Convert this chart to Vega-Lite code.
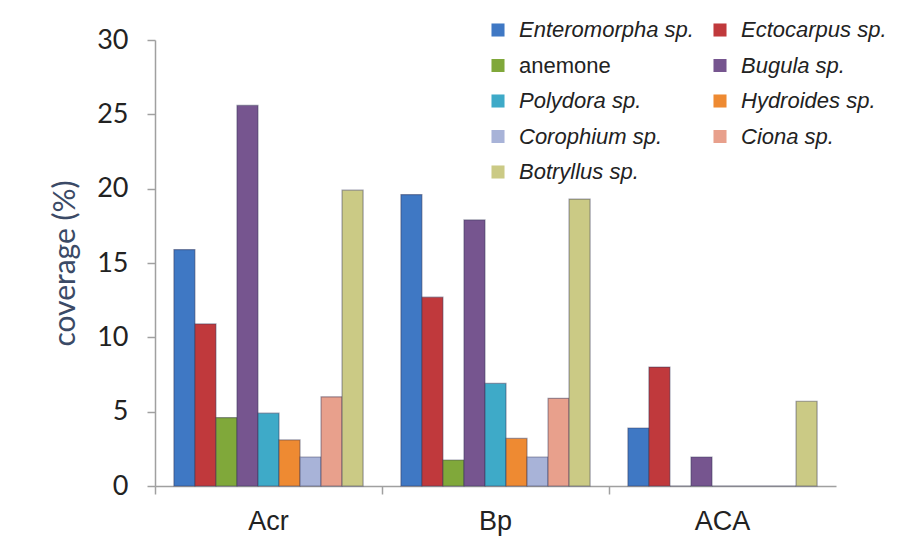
{
  "$schema": "https://vega.github.io/schema/vega-lite/v6.json",
  "autosize": {"type": "none"},
  "width": 681,
  "height": 446,
  "padding": {"left": 155, "top": 40, "right": 86, "bottom": 73},
  "background": "white",
  "config": {"view": {"stroke": null}},
  "data": {
    "values": [
      {"site": "Acr", "taxon": "Enteromorpha sp.", "coverage": 15.9},
      {"site": "Acr", "taxon": "Ectocarpus sp.", "coverage": 10.9},
      {"site": "Acr", "taxon": "anemone", "coverage": 4.6},
      {"site": "Acr", "taxon": "Bugula sp.", "coverage": 25.6},
      {"site": "Acr", "taxon": "Polydora sp.", "coverage": 4.9},
      {"site": "Acr", "taxon": "Hydroides sp.", "coverage": 3.1},
      {"site": "Acr", "taxon": "Corophium sp.", "coverage": 1.95},
      {"site": "Acr", "taxon": "Ciona sp.", "coverage": 6.0},
      {"site": "Acr", "taxon": "Botryllus sp.", "coverage": 19.9},
      {"site": "Bp", "taxon": "Enteromorpha sp.", "coverage": 19.6},
      {"site": "Bp", "taxon": "Ectocarpus sp.", "coverage": 12.7},
      {"site": "Bp", "taxon": "anemone", "coverage": 1.75},
      {"site": "Bp", "taxon": "Bugula sp.", "coverage": 17.9},
      {"site": "Bp", "taxon": "Polydora sp.", "coverage": 6.9},
      {"site": "Bp", "taxon": "Hydroides sp.", "coverage": 3.2},
      {"site": "Bp", "taxon": "Corophium sp.", "coverage": 1.95},
      {"site": "Bp", "taxon": "Ciona sp.", "coverage": 5.9},
      {"site": "Bp", "taxon": "Botryllus sp.", "coverage": 19.3},
      {"site": "ACA", "taxon": "Enteromorpha sp.", "coverage": 3.9},
      {"site": "ACA", "taxon": "Ectocarpus sp.", "coverage": 8.0},
      {"site": "ACA", "taxon": "anemone", "coverage": 0},
      {"site": "ACA", "taxon": "Bugula sp.", "coverage": 1.95},
      {"site": "ACA", "taxon": "Polydora sp.", "coverage": 0},
      {"site": "ACA", "taxon": "Hydroides sp.", "coverage": 0},
      {"site": "ACA", "taxon": "Corophium sp.", "coverage": 0},
      {"site": "ACA", "taxon": "Ciona sp.", "coverage": 0},
      {"site": "ACA", "taxon": "Botryllus sp.", "coverage": 5.7}
    ]
  },
  "mark": {"type": "bar", "stroke": "#333355", "strokeOpacity": 0.45, "strokeWidth": 1.2},
  "encoding": {
    "x": {
      "field": "site",
      "type": "nominal",
      "sort": ["Acr", "Bp", "ACA"],
      "scale": {"paddingInner": 0, "paddingOuter": 0},
      "axis": {
        "title": null,
        "labelAngle": 0,
        "labelFont": "Liberation Sans",
        "labelFontSize": 27,
        "labelColor": "#222222",
        "labelPadding": 14,
        "bandPosition": 0,
        "tickSize": 8,
        "tickColor": "#a0a0a0",
        "domainColor": "#a0a0a0",
        "domainWidth": 1.5,
        "tickWidth": 1.5
      }
    },
    "xOffset": {
      "field": "taxon",
      "type": "nominal",
      "sort": ["Enteromorpha sp.", "Ectocarpus sp.", "anemone", "Bugula sp.", "Polydora sp.", "Hydroides sp.", "Corophium sp.", "Ciona sp.", "Botryllus sp."],
      "scale": {"paddingInner": 0, "paddingOuter": 0.9}
    },
    "y": {
      "field": "coverage",
      "type": "quantitative",
      "scale": {"domain": [0, 30]},
      "axis": {
        "title": "coverage (%)",
        "titleFont": "Lato",
        "titleFontSize": 30,
        "titleFontWeight": "normal",
        "titleColor": "#3b4a66",
        "titlePadding": 16,
        "values": [0, 5, 10, 15, 20, 25, 30],
        "grid": false,
        "labelFont": "Lato",
        "labelFontSize": 27,
        "labelColor": "#222222",
        "labelPadding": 19,
        "tickSize": 8,
        "tickColor": "#a0a0a0",
        "domainColor": "#a0a0a0",
        "domainWidth": 1.5,
        "tickWidth": 1.5
      }
    },
    "color": {
      "field": "taxon",
      "type": "nominal",
      "sort": ["Enteromorpha sp.", "Ectocarpus sp.", "anemone", "Bugula sp.", "Polydora sp.", "Hydroides sp.", "Corophium sp.", "Ciona sp.", "Botryllus sp."],
      "scale": {
        "domain": ["Enteromorpha sp.", "Ectocarpus sp.", "anemone", "Bugula sp.", "Polydora sp.", "Hydroides sp.", "Corophium sp.", "Ciona sp.", "Botryllus sp."],
        "range": ["#3f78c4", "#c0393c", "#80a83a", "#76558f", "#3eaac8", "#ee8a32", "#a8b3d8", "#e8a08c", "#cbca85"]
      },
      "legend": {
        "title": null,
        "orient": "none",
        "direction": "horizontal",
        "legendX": 332,
        "legendY": -21,
        "columns": 2,
        "columnPadding": 15,
        "rowPadding": 13.5,
        "symbolType": "square",
        "symbolSize": 170,
        "symbolStrokeWidth": 0,
        "labelFont": "Liberation Sans",
        "labelFontSize": 22,
        "labelColor": "#222222",
        "labelOffset": 10,
        "labelLimit": 300,
        "labelFontStyle": {"expr": "datum.value == 'anemone' ? 'normal' : 'italic'"}
      }
    }
  }
}
